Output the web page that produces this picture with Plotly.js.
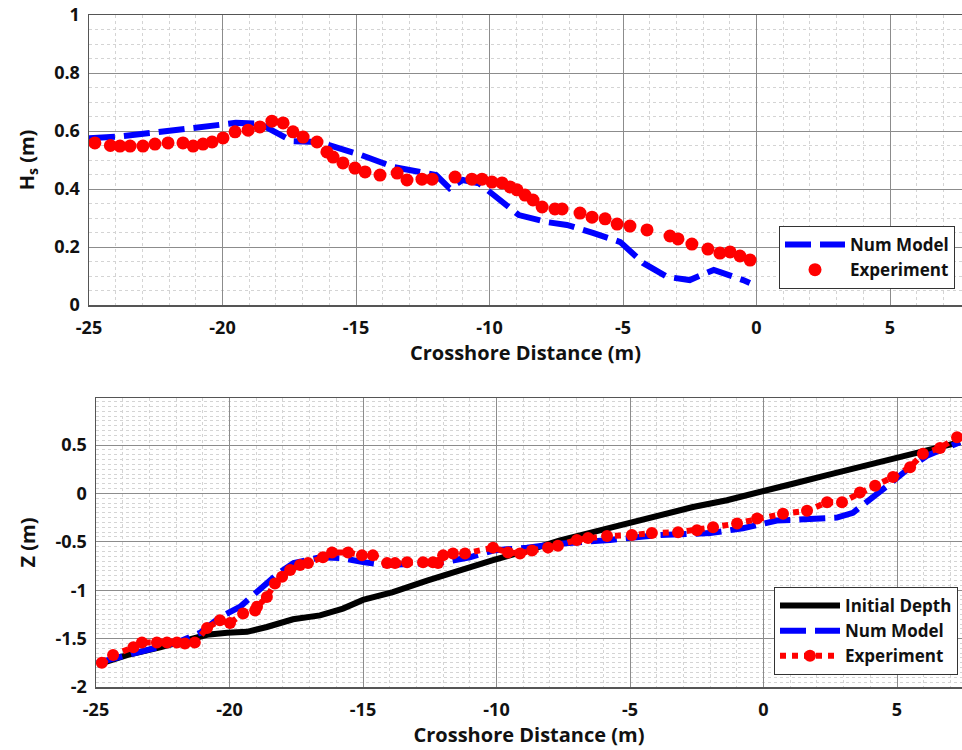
<!DOCTYPE html>
<html>
<head>
<meta charset="utf-8">
<script src="https://cdn.plot.ly/plotly-3.0.1.min.js"></script>
<style>html,body{margin:0;padding:0;background:#fff;}#plot{width:962px;height:750px;}</style>
</head>
<body>
<div id="plot"></div>
<script>
// ---- Top panel: significant wave height ----
const hsModelX = [-25, -24, -22.5, -21, -19.5, -18.6, -18.0, -17.4, -16.4, -14.8, -13.6, -12.0, -11.5, -11.0, -10.4, -9.6, -8.9, -7.85, -7.1, -6.1, -5.1, -4.25, -3.35, -2.5, -1.6, -0.5, -0.25];
const hsModelY = [0.575, 0.58, 0.595, 0.61, 0.628, 0.625, 0.597, 0.565, 0.562, 0.517, 0.476, 0.448, 0.403, 0.431, 0.42, 0.362, 0.31, 0.286, 0.276, 0.248, 0.217, 0.145, 0.097, 0.086, 0.121, 0.086, 0.076];

const hsExpX = [-24.78, -24.2, -23.84, -23.46, -22.98, -22.53, -22.04, -21.48, -21.1, -20.73, -20.39, -19.98, -19.53, -19.04, -18.6, -18.15, -17.73, -17.36, -16.98, -16.46, -16.09, -15.86, -15.49, -15.04, -14.66, -14.1, -13.46, -13.09, -12.53, -12.15, -11.29, -10.66, -10.28, -9.91, -9.53, -9.23, -8.97, -8.67, -8.37, -8.03, -7.55, -7.28, -6.61, -6.16, -5.67, -5.22, -4.74, -4.1, -3.24, -2.94, -2.42, -1.82, -1.37, -0.99, -0.62, -0.24];
const hsExpY = [0.559, 0.55, 0.548, 0.548, 0.548, 0.555, 0.559, 0.559, 0.548, 0.555, 0.562, 0.576, 0.597, 0.603, 0.614, 0.634, 0.628, 0.597, 0.579, 0.562, 0.528, 0.51, 0.49, 0.472, 0.459, 0.448, 0.455, 0.431, 0.434, 0.434, 0.441, 0.434, 0.434, 0.424, 0.421, 0.407, 0.397, 0.379, 0.362, 0.338, 0.331, 0.331, 0.317, 0.303, 0.297, 0.279, 0.272, 0.259, 0.238, 0.228, 0.21, 0.193, 0.179, 0.183, 0.169, 0.155];

// ---- Bottom panel: bed profile ----
const initX = [-24.96, -23.84, -22.6, -21.37, -20.84, -20.09, -19.34, -18.6, -17.62, -16.61, -15.75, -15.0, -13.88, -12.6, -11.37, -10.13, -8.86, -7.62, -6.39, -5.11, -3.88, -2.64, -1.37, -0.13, 1.1, 2.38, 3.6, 4.85, 6.12, 7.36];
const initZ = [-1.77, -1.67, -1.59, -1.51, -1.46, -1.44, -1.43, -1.38, -1.30, -1.26, -1.19, -1.10, -1.02, -0.90, -0.79, -0.69, -0.59, -0.485, -0.40, -0.31, -0.23, -0.14, -0.07, 0.01, 0.10, 0.19, 0.27, 0.36, 0.44, 0.53];

const modelX = [-24.96, -23.24, -21.97, -21.1, -20.36, -19.6, -18.86, -18.2, -17.6, -16.6, -15.75, -15.0, -14.1, -13.13, -12.0, -11.0, -10.13, -8.86, -7.62, -5.75, -3.88, -2.0, -0.77, 0.5, 1.74, 2.75, 3.35, 3.99, 4.74, 5.49, 6.12, 7.36];
const modelZ = [-1.75, -1.62, -1.54, -1.44, -1.28, -1.17, -1.0, -0.83, -0.72, -0.66, -0.67, -0.71, -0.74, -0.72, -0.71, -0.66, -0.59, -0.56, -0.52, -0.48, -0.43, -0.41, -0.36, -0.28, -0.26, -0.25, -0.20, -0.07, 0.10, 0.27, 0.39, 0.53];

const expX = [-24.78, -24.36, -23.6, -23.28, -22.72, -22.34, -21.97, -21.67, -21.3, -20.84, -20.36, -19.98, -19.49, -19.04, -18.97, -18.6, -18.3, -18.03, -17.73, -17.36, -17.06, -16.5, -16.16, -15.56, -15.04, -14.63, -14.1, -13.8, -13.35, -12.75, -12.38, -12.19, -12.0, -11.63, -11.18, -10.13, -9.57, -9.12, -8.67, -8.07, -7.7, -6.99, -6.57, -5.86, -4.93, -4.18, -3.2, -2.49, -1.89, -0.99, -0.24, 0.73, 1.63, 2.38, 2.94, 3.61, 4.18, 4.85, 5.49, 5.97, 6.61, 7.25];
const expZ = [-1.75, -1.67, -1.59, -1.54, -1.54, -1.54, -1.54, -1.55, -1.54, -1.39, -1.31, -1.34, -1.24, -1.21, -1.17, -1.07, -0.93, -0.86, -0.79, -0.74, -0.72, -0.66, -0.61, -0.61, -0.64, -0.64, -0.72, -0.72, -0.71, -0.71, -0.71, -0.72, -0.64, -0.62, -0.62, -0.56, -0.61, -0.62, -0.59, -0.56, -0.54, -0.48, -0.46, -0.44, -0.43, -0.41, -0.40, -0.38, -0.35, -0.31, -0.26, -0.21, -0.18, -0.09, -0.09, 0.01, 0.08, 0.17, 0.27, 0.41, 0.47, 0.58];

// ---- Tick labels ----
const xTickVals = [-25, -20, -15, -10, -5, 0, 5];
const xTickText = ['-25', '-20', '-15', '-10', '-5', '0', '5'];
const hsTickVals = [0, 0.2, 0.4, 0.6, 0.8, 1];
const hsTickText = ['0', '0.2', '0.4', '0.6', '0.8', '1'];
const zTickVals = [-2, -1.5, -1, -0.5, 0, 0.5];
const zTickText = ['-2', '-1.5', '-1', '-0.5', '0', '0.5'];

const FONT = 'Open Sans, DejaVu Sans, sans-serif';
const BLUE = '#0000ff', RED = '#ff0000';

const traces = [
  {x: hsModelX, y: hsModelY, type: 'scatter', mode: 'lines', name: 'Num Model',
   line: {color: BLUE, width: 6, dash: '26px,9px'}, xaxis: 'x', yaxis: 'y', legend: 'legend'},
  {x: hsExpX, y: hsExpY, type: 'scatter', mode: 'markers', name: 'Experiment',
   marker: {color: RED, size: 13}, xaxis: 'x', yaxis: 'y', legend: 'legend'},
  {x: initX, y: initZ, type: 'scatter', mode: 'lines', name: 'Initial Depth',
   line: {color: '#000', width: 6}, xaxis: 'x2', yaxis: 'y2', legend: 'legend2'},
  {x: modelX, y: modelZ, type: 'scatter', mode: 'lines', name: 'Num Model',
   line: {color: BLUE, width: 6, dash: '26px,9px'}, xaxis: 'x2', yaxis: 'y2', legend: 'legend2'},
  {x: expX, y: expZ, type: 'scatter', mode: 'lines+markers', name: 'Experiment',
   line: {color: RED, width: 6, dash: 'dot'}, marker: {color: RED, size: 12},
   xaxis: 'x2', yaxis: 'y2', legend: 'legend2'}
];

function xAxis(domain, range, anchor) {
  return {
    domain: domain, range: range, anchor: anchor,
    tickmode: 'array', tickvals: xTickVals, ticktext: xTickText,
    showgrid: true, gridcolor: '#8c8c8c', gridwidth: 1,
    minor: {dtick: 1, showgrid: true, gridcolor: '#d4d4d4', griddash: 'dot', gridwidth: 1},
    showline: true, linecolor: '#555', linewidth: 1.5, mirror: true,
    ticks: '', zeroline: false, ticklabelstandoff: 6,
    tickfont: {family: FONT, size: 18, color: '#111', weight: 'bold'},
    title: {text: 'Crosshore Distance (m)', standoff: 8,
            font: {family: FONT, size: 20, color: '#111', weight: 'bold'}}
  };
}
function yAxis(domain, range, anchor, tv, tt, minorDt, title) {
  return {
    domain: domain, range: range, anchor: anchor,
    tickmode: 'array', tickvals: tv, ticktext: tt,
    showgrid: true, gridcolor: '#8c8c8c', gridwidth: 1,
    minor: {dtick: minorDt, showgrid: true, gridcolor: '#d4d4d4', griddash: 'dot', gridwidth: 1},
    showline: true, linecolor: '#555', linewidth: 1.5, mirror: true,
    ticks: '', zeroline: false, ticklabelstandoff: 4,
    tickfont: {family: FONT, size: 18, color: '#111', weight: 'bold'},
    title: {text: title, standoff: 14,
            font: {family: FONT, size: 20, color: '#111', weight: 'bold'}}
  };
}

const legFont = {family: FONT, size: 17, color: '#111', weight: 'bold'};
const layout = {
  width: 962, height: 750,
  margin: {l: 0, r: 0, t: 0, b: 0},
  paper_bgcolor: '#fff', plot_bgcolor: '#fff',
  showlegend: true,
  xaxis: xAxis([89/962, 1], [-25, -25 + 873/26.7], 'y'),
  yaxis: yAxis([1 - 305/750, 1 - 15/750], [0, 1], 'x', hsTickVals, hsTickText, 0.05, 'H<sub>s</sub> (m)'),
  xaxis2: xAxis([96/962, 1], [-25, -25 + 866/26.7], 'y2'),
  yaxis2: yAxis([1 - 687/750, 1 - 398/750], [-2, 0.986], 'x2', zTickVals, zTickText, 0.05, 'Z (m)'),
  legend: {x: 955/962, y: 1 - 289/750, xanchor: 'right', yanchor: 'bottom',
           bgcolor: '#fff', bordercolor: '#333', borderwidth: 1, itemwidth: 60,
           tracegroupgap: 0, font: legFont},
  legend2: {x: 958/962, y: 1 - 675/750, xanchor: 'right', yanchor: 'bottom',
            bgcolor: '#fff', bordercolor: '#333', borderwidth: 1, itemwidth: 60,
            tracegroupgap: 0, font: legFont}
};

Plotly.newPlot('plot', traces, layout, {displayModeBar: false, staticPlot: true});
</script>
</body>
</html>
